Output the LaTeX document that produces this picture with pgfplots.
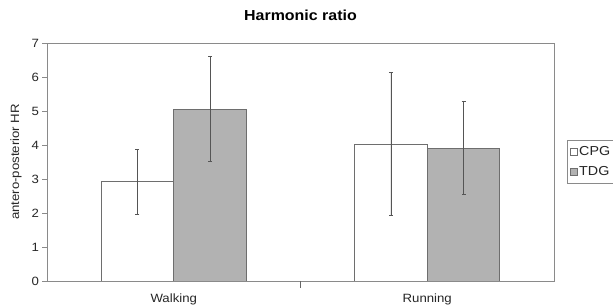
\documentclass[border=0pt]{standalone}
\usepackage{fontspec}
\setmainfont[FakeStretch=1.1]{Liberation Sans}
\usepackage{pgfplots}
\pgfplotsset{compat=1.18}
\definecolor{axgray}{HTML}{8A8A8A}
\definecolor{bargray}{HTML}{B2B2B2}
\definecolor{bordergray}{HTML}{6E6E6E}
\definecolor{errgray}{HTML}{555555}
\begin{document}
\begin{tikzpicture}
\path[use as bounding box] (0,0) rectangle (613pt,307pt);
\begin{axis}[
  at={(47pt,26pt)}, anchor=south west,
  scale only axis, width=507pt, height=238pt,
  xmin=0, xmax=2, ymin=0, ymax=7,
  ybar=0pt, bar width=72.6pt,
  axis line style={axgray, line width=0.9pt},
  tick style={axgray, line width=0.9pt},
  tick align=outside, major tick length=4.5pt,
  xtick pos=bottom, ytick pos=left,
  ytick={0,1,2,3,4,5,6,7},
  xtick={0.5,1.5}, xticklabels={Walking,Running},
  major x tick style={draw=none},
  xticklabel style={yshift=-5pt},
  /pgf/number format/assume math mode=true,
  ticklabel style={font=\fontsize{12}{12}\selectfont, text=black!85},
  title={Harmonic ratio},
  title style={font=\bfseries\fontsize{14.5}{14.5}\selectfont, at={(0.5,1)}, anchor=center, yshift=22pt},
  ylabel={antero-posterior HR},
  ylabel style={font=\fontsize{12}{12}\selectfont, text=black!85, at={(axis description cs:-0.061,0.5)}, anchor=center},
  legend style={at={(1.026,0.5)}, anchor=west, draw=axgray, line width=0.9pt, font=\fontsize{13}{13}\selectfont, text=black!85, inner xsep=2pt, inner ysep=4pt, row sep=5pt, legend cell align=left},
]
\addplot[fill=white, draw=bordergray, line width=0.9pt,
  legend image code/.code={\draw[fill=white, draw=bordergray, line width=0.6pt] (0pt,-3.5pt) rectangle (7pt,3.5pt);},
  error bars/.cd, y dir=both, y explicit,
  error bar style={errgray, line width=0.9pt},
  error mark options={rotate=90, mark size=2pt, errgray, line width=0.9pt}]
  coordinates {(0.5,2.92) +- (0,0.95) (1.5,4.02) +- (0,2.10)};
\addlegendentry{CPG}
\addplot[fill=bargray, draw=bordergray, line width=0.9pt,
  legend image code/.code={\draw[fill=bargray, draw=bordergray, line width=0.6pt] (0pt,-3.5pt) rectangle (7pt,3.5pt);},
  error bars/.cd, y dir=both, y explicit,
  error bar style={errgray, line width=0.9pt},
  error mark options={rotate=90, mark size=2pt, errgray, line width=0.9pt}]
  coordinates {(0.5,5.05) +- (0,1.54) (1.5,3.91) +- (0,1.37)};
\addlegendentry{TDG}
\end{axis}
\draw[black!60, line width=1.2pt] (300.5pt,26pt) -- (300.5pt,19pt);
\end{tikzpicture}
\end{document}
